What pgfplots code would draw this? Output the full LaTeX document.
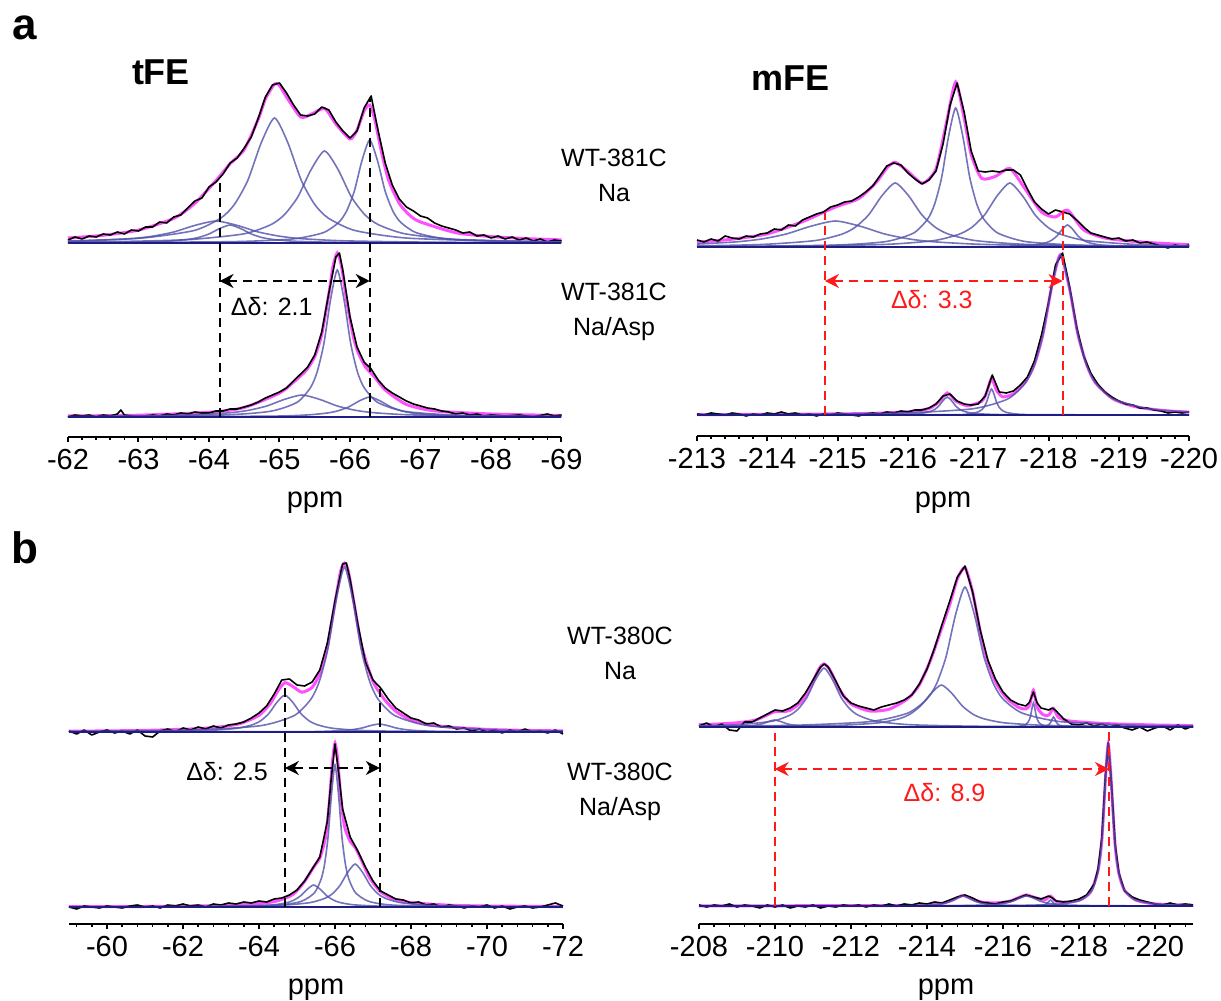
\documentclass[border=0pt]{standalone}
\usepackage{pgfplots}
\pgfplotsset{compat=1.18}
\usepackage{fontspec}
\setmainfont{Liberation Sans}
\usetikzlibrary{arrows.meta}

\definecolor{fitc}{RGB}{255,80,255}
\definecolor{compc}{RGB}{80,80,170}
\definecolor{basec}{RGB}{30,30,130}
\definecolor{redc}{RGB}{255,25,25}

\pgfplotsset{
  panel/.style={
    anchor=south west, y=0.5pt, x dir=reverse,
    axis x line*=bottom, axis y line=none,
    axis line style={-, line width=1pt, black},
    tick align=outside, major tick length=2.6pt, minor tick length=1.6pt,
    x tick style={black, line width=1pt},
    minor x tick style={black, line width=0.8pt},
    xticklabel style={font=\fontsize{14.5}{16}\selectfont},
    /pgf/number format/assume math mode=true,
    enlargelimits=false, clip=false, ymax=360,
  },
  fit/.style={fitc, line width=1.5pt, smooth, tension=0.4},
  dat/.style={black, line width=0.8pt, line join=round},
  comp/.style={compc, opacity=0.8, line width=0.8pt, smooth, tension=0.4},
  base/.style={basec, line width=1.2pt},
  yoff/.style={y filter/.expression={y+#1}},
  guide/.style={black, line width=1pt, dash pattern=on 4.5pt off 3pt},
  rguide/.style={redc, line width=1pt, dash pattern=on 4.5pt off 3pt},
}
\tikzset{dd/.style={{Stealth[length=7pt,width=7pt]}-{Stealth[length=7pt,width=7pt]}}}

\begin{document}
\begin{tikzpicture}
\path[use as bounding box] (0,0) rectangle (610.5pt,500.5pt);

% ---------------- a, tFE ----------------
\begin{axis}[panel, at={(34pt,282pt)}, x=35.25pt,
  xmin=-69, xmax=-62, ymin=-20,
  xtick={-69,-68,...,-62}, minor xtick={-69,-68.8,...,-62}]
% WT-381C Na
\addplot[fit, yoff=174] coordinates {(-62,5)(-62.5,7.7)(-63,12.9)(-63.5,24.6)(-63.8,39.7)(-64.1,62.5)(-64.3,79.3)(-64.5,93.4)(-64.7,124)(-64.8,144)(-64.93,159)(-65.0,157.6)(-65.1,146)(-65.3,126)(-65.45,128.7)(-65.64,134.5)(-65.8,119)(-66.0,104)(-66.1,113)(-66.2,132)(-66.28,138)(-66.35,124)(-66.45,90)(-66.55,62.4)(-66.7,39.5)(-66.85,27.5)(-67,21)(-67.5,10.3)(-68,6.4)(-68.5,4.4)(-69,3.1)};
\addplot[dat, yoff=174] coordinates {(-62.0,3)(-62.1,6)(-62.2,4)(-62.3,7)(-62.4,6)(-62.5,9)(-62.6,8)(-62.7,11)(-62.8,9)(-62.9,13)(-63.0,12)(-63.1,16)(-63.2,16)(-63.3,21)(-63.4,20)(-63.5,26)(-63.6,28)(-63.7,35)(-63.8,42)(-63.9,45)(-64.0,56)(-64.1,61)(-64.2,69)(-64.3,80)(-64.4,85)(-64.5,95)(-64.6,106)(-64.7,125)(-64.8,146)(-64.9,158)(-65.0,160)(-65.1,150)(-65.2,138)(-65.3,128)(-65.4,127)(-65.5,129)(-65.6,136)(-65.7,133)(-65.8,121)(-65.9,112)(-66.0,105)(-66.1,112)(-66.2,135)(-66.3,147)(-66.4,112)(-66.5,80)(-66.6,58)(-66.7,44)(-66.8,36)(-66.9,32)(-67.0,27)(-67.1,25)(-67.2,20)(-67.3,17)(-67.4,15)(-67.5,13)(-67.6,10)(-67.7,11)(-67.8,7)(-67.9,8)(-68.0,5)(-68.1,7)(-68.2,4)(-68.3,6)(-68.4,3)(-68.5,5)(-68.6,2)(-68.7,4)(-68.8,1)(-68.9,3)(-69.0,2)};
\addplot[comp, yoff=174] coordinates {(-62,1.7)(-62.3,2.2)(-62.9,4.4)(-63.2,6.8)(-63.5,11)(-63.8,17.6)(-64.1,22)(-64.4,17.6)(-64.7,11)(-65.0,6.8)(-65.3,4.4)(-65.9,2.2)(-67.1,0.85)(-69,0.33)};
\addplot[comp, yoff=174] coordinates {(-62,0.3)(-62.8,0.7)(-63.4,1.8)(-63.7,3.6)(-63.85,5.5)(-64.0,9)(-64.15,14.4)(-64.3,18)(-64.45,14.4)(-64.6,9)(-64.75,5.5)(-64.9,3.6)(-65.2,1.8)(-65.8,0.7)(-67.0,0.22)(-69,0.07)};
\addplot[comp, yoff=174] coordinates {(-62,2.1)(-63.03,4.8)(-63.79,12.5)(-64.17,25)(-64.36,38.5)(-64.55,62.5)(-64.74,100)(-64.93,125)(-65.12,100)(-65.31,62.5)(-65.50,38.5)(-65.69,25)(-66.07,12.5)(-66.83,4.8)(-68.35,1.5)(-69,1.1)};
\addplot[comp, yoff=174] coordinates {(-62,1.0)(-62.9,1.7)(-63.74,3.5)(-64.50,9.2)(-64.88,18.4)(-65.07,28.3)(-65.26,46)(-65.45,73.6)(-65.64,92)(-65.83,73.6)(-66.02,46)(-66.21,28.3)(-66.40,18.4)(-66.78,9.2)(-67.54,3.5)(-69,1.2)};
\addplot[comp, yoff=174] coordinates {(-62,0.3)(-64.30,1.3)(-65.18,4)(-65.62,10.3)(-65.84,20.6)(-65.95,31.7)(-66.06,51.5)(-66.17,82.4)(-66.28,103)(-66.39,82.4)(-66.50,51.5)(-66.61,31.7)(-66.72,20.6)(-66.94,10.3)(-67.38,4)(-68.26,1.3)(-69,0.7)};
\addplot[base, yoff=174] coordinates {(-62,0)(-69,0)};
% WT-381C Na/Asp
\addplot[fit] coordinates {(-62,1)(-63,1.8)(-64,4.7)(-64.5,9.5)(-65,24)(-65.2,34.9)(-65.38,46.7)(-65.5,60.5)(-65.6,82.8)(-65.7,123)(-65.76,151)(-65.82,164)(-65.88,150.6)(-65.95,117.5)(-66.05,79.6)(-66.12,63.8)(-66.22,50)(-66.35,40)(-66.5,27)(-66.8,12.6)(-67.2,6.1)(-68,3)(-69,1.5)};
\addplot[dat] coordinates {(-62.0,0)(-62.1,2)(-62.2,1)(-62.3,2)(-62.4,0)(-62.5,2)(-62.6,1)(-62.7,3)(-62.75,7)(-62.8,2)(-62.9,1)(-63.0,0)(-63.1,1)(-63.2,2)(-63.3,1)(-63.4,3)(-63.5,2)(-63.6,4)(-63.7,3)(-63.8,5)(-63.9,4)(-64.0,4)(-64.1,6)(-64.2,6)(-64.3,8)(-64.4,8)(-64.5,10)(-64.6,12)(-64.7,15)(-64.8,19)(-64.9,22)(-65.0,25)(-65.1,29)(-65.2,36)(-65.3,43)(-65.4,50)(-65.5,62)(-65.6,85)(-65.7,124)(-65.8,160)(-65.85,164)(-65.9,146)(-66.0,100)(-66.1,70)(-66.2,55)(-66.3,48)(-66.4,37)(-66.5,29)(-66.6,24)(-66.7,20)(-66.8,16)(-66.9,13)(-67.0,11)(-67.1,9)(-67.2,8)(-67.3,6)(-67.4,5)(-67.5,3)(-67.6,4)(-67.7,2)(-67.8,3)(-67.9,1)(-68.0,2)(-68.2,1)(-68.4,2)(-68.6,0)(-68.8,3)(-68.9,1)(-69.0,2)};
\addplot[comp] coordinates {(-62,0.36)(-64.11,1.8)(-64.87,5.7)(-65.25,14.7)(-65.44,29.4)(-65.535,45.2)(-65.63,73.5)(-65.725,117.6)(-65.82,147)(-65.915,117.6)(-66.01,73.5)(-66.105,45.2)(-66.20,29.4)(-66.39,14.7)(-66.77,5.7)(-67.53,1.8)(-69,0.52)};
\addplot[comp] coordinates {(-62,0.49)(-62.82,0.85)(-63.82,2.2)(-64.32,4.4)(-64.57,6.8)(-64.82,11)(-65.07,17.6)(-65.32,22)(-65.57,17.6)(-65.82,11)(-66.07,6.8)(-66.32,4.4)(-66.82,2.2)(-67.82,0.85)(-69,0.4)};
\addplot[comp] coordinates {(-62,0.1)(-64.78,0.77)(-65.38,2)(-65.68,4)(-65.83,6.2)(-65.98,10)(-66.13,16)(-66.28,20)(-66.43,16)(-66.58,10)(-66.73,6.2)(-66.88,4)(-67.18,2)(-67.78,0.77)(-69,0.24)};
\addplot[base] coordinates {(-62,0)(-69,0)};
% shift marks
\addplot[guide] coordinates {(-64.15,0)(-64.15,238)};
\addplot[guide] coordinates {(-66.28,0)(-66.28,318)};
\addplot[guide, dd] coordinates {(-64.15,136)(-66.28,136)};
\node[font=\fontsize{12.5}{14}\selectfont] at (axis cs:-64.89,110) {Δδ: 2.1};
\end{axis}

% ---------------- a, mFE ----------------
\begin{axis}[panel, at={(348.5pt,282.5pt)}, x=35.15pt,
  xmin=-220, xmax=-213, ymin=-21,
  xtick={-220,-219,...,-213}, minor xtick={-220,-219.8,...,-213}]
% WT-381C Na
\addplot[fit, yoff=168] coordinates {(-213,4.8)(-213.5,7.8)(-214,13.1)(-214.5,25.3)(-214.97,40)(-215.3,48.4)(-215.55,64.7)(-215.7,79)(-215.82,84.7)(-216,75.5)(-216.21,63.8)(-216.4,78.2)(-216.55,124.9)(-216.68,165)(-216.8,128.8)(-216.9,92.4)(-217.05,68.6)(-217.25,70.8)(-217.45,78.6)(-217.65,59.9)(-217.9,35)(-218.1,30)(-218.27,36.9)(-218.5,17.1)(-218.8,9)(-219.2,5.7)(-219.6,3.7)(-220,2.3)};
\addplot[dat, yoff=168] coordinates {(-213.0,7)(-213.1,5)(-213.2,8)(-213.3,6)(-213.4,11)(-213.5,9)(-213.6,8)(-213.7,11)(-213.8,10)(-213.9,13)(-214.0,14)(-214.1,18)(-214.2,17)(-214.3,22)(-214.4,21)(-214.5,27)(-214.6,30)(-214.7,33)(-214.8,35)(-214.9,40)(-215.0,42)(-215.1,45)(-215.2,46)(-215.3,50)(-215.4,55)(-215.5,61)(-215.6,71)(-215.7,81)(-215.8,84)(-215.9,82)(-216.0,74)(-216.1,68)(-216.2,63)(-216.3,67)(-216.4,76)(-216.5,103)(-216.6,142)(-216.7,164)(-216.8,135)(-216.9,96)(-217.0,76)(-217.1,75)(-217.2,76)(-217.3,75)(-217.4,77)(-217.5,77)(-217.6,72)(-217.7,58)(-217.8,45)(-217.9,38)(-218.0,33)(-218.1,37)(-218.2,35)(-218.3,33)(-218.4,27)(-218.5,20)(-218.6,14)(-218.7,12)(-218.8,10)(-218.9,8)(-219.0,9)(-219.1,6)(-219.2,7)(-219.3,4)(-219.4,5)(-219.5,3)(-219.6,1)(-219.7,-1)(-219.8,2)(-219.9,0)(-220.0,2)};
\addplot[comp, yoff=168] coordinates {(-213,2.9)(-213.57,5.2)(-213.92,8)(-214.27,13)(-214.62,20.8)(-214.97,26)(-215.32,20.8)(-215.67,13)(-216.02,8)(-216.37,5.2)(-217.07,2.6)(-218.47,1)(-220,0.5)};
\addplot[comp, yoff=168] coordinates {(-213,1.1)(-213.92,2.5)(-214.68,6.4)(-215.06,12.8)(-215.25,19.7)(-215.44,32)(-215.63,51.2)(-215.82,64)(-216.01,51.2)(-216.20,32)(-216.39,19.7)(-216.58,12.8)(-216.96,6.4)(-217.72,2.5)(-219.24,0.8)(-220,0.5)};
\addplot[comp, yoff=168] coordinates {(-213,0.4)(-214.88,1.7)(-215.68,5.35)(-216.08,13.9)(-216.28,27.8)(-216.38,42.8)(-216.48,69.5)(-216.58,111.2)(-216.68,139)(-216.78,111.2)(-216.88,69.5)(-216.98,42.8)(-217.08,27.8)(-217.28,13.9)(-217.68,5.35)(-218.48,1.7)(-220,0.5)};
\addplot[comp, yoff=168] coordinates {(-213,0.4)(-214.21,0.8)(-215.65,2.5)(-216.37,6.4)(-216.73,12.8)(-216.91,19.7)(-217.09,32)(-217.27,51.2)(-217.45,64)(-217.63,51.2)(-217.81,32)(-217.99,19.7)(-218.17,12.8)(-218.53,6.4)(-219.25,2.5)(-220,1.25)};
\addplot[comp, yoff=168] coordinates {(-213,0)(-216.92,0.27)(-217.52,0.85)(-217.82,2.2)(-217.97,4.4)(-218.045,6.8)(-218.12,11)(-218.195,17.6)(-218.27,22)(-218.345,17.6)(-218.42,11)(-218.495,6.8)(-218.57,4.4)(-218.72,2.2)(-219.02,0.85)(-219.62,0.27)(-220,0.16)};
\addplot[base, yoff=168] coordinates {(-213,0)(-220,0)};
% WT-381C Na/Asp
\addplot[fit] coordinates {(-213,0.4)(-214,0.6)(-215,1.1)(-215.5,1.6)(-216,3.2)(-216.3,6.4)(-216.45,13.7)(-216.5,18.3)(-216.56,22.1)(-216.62,18.9)(-216.68,13.9)(-216.85,9.2)(-217.05,13.8)(-217.12,22.5)(-217.19,36.5)(-217.26,24.8)(-217.35,18.2)(-217.5,21.2)(-217.67,33)(-217.8,50.7)(-217.92,80.5)(-218.05,130)(-218.17,160.3)(-218.3,126)(-218.42,80)(-218.55,49)(-218.67,32)(-218.92,16)(-219.2,8.9)(-219.42,6.2)(-219.7,4.1)(-220,2.9)};
\addplot[dat] coordinates {(-213.0,1)(-213.1,0)(-213.2,2)(-213.3,1)(-213.4,0)(-213.5,2)(-213.6,1)(-213.7,-1)(-213.8,1)(-213.9,0)(-214.0,2)(-214.1,1)(-214.2,3)(-214.3,1)(-214.4,2)(-214.5,0)(-214.6,1)(-214.7,-1)(-214.8,1)(-214.9,0)(-215.0,2)(-215.1,1)(-215.2,0)(-215.3,-1)(-215.4,1)(-215.5,2)(-215.6,1)(-215.7,3)(-215.8,2)(-215.9,4)(-216.0,3)(-216.1,5)(-216.2,5)(-216.3,7)(-216.4,11)(-216.5,19)(-216.6,21)(-216.7,14)(-216.8,11)(-216.9,10)(-217.0,11)(-217.1,19)(-217.2,40)(-217.3,23)(-217.4,22)(-217.5,24)(-217.6,30)(-217.7,38)(-217.8,54)(-217.9,80)(-218.0,112)(-218.1,150)(-218.2,162)(-218.3,128)(-218.4,88)(-218.5,59)(-218.6,42)(-218.7,31)(-218.8,23)(-218.9,18)(-219.0,14)(-219.1,11)(-219.2,10)(-219.3,7)(-219.4,7)(-219.5,5)(-219.6,4)(-219.7,2)(-219.8,3)(-219.9,2)(-220.0,3)};
\addplot[comp] coordinates {(-213,0.4)(-214.5,0.7)(-215.92,2)(-216.92,6.2)(-217.42,16)(-217.67,32)(-217.795,49.2)(-217.92,80)(-218.045,128)(-218.17,160)(-218.295,128)(-218.42,80)(-218.545,49.2)(-218.67,32)(-218.92,16)(-219.42,6.2)(-220,2.9)};
\addplot[comp] coordinates {(-213,0)(-215.48,0.2)(-215.96,0.7)(-216.20,1.8)(-216.32,3.6)(-216.38,5.5)(-216.44,9)(-216.50,14.4)(-216.56,18)(-216.62,14.4)(-216.68,9)(-216.74,5.5)(-216.80,3.6)(-216.92,1.8)(-217.16,0.7)(-217.64,0.2)(-220,0)};
\addplot[comp] coordinates {(-213,0)(-216.56,0.3)(-216.84,1)(-216.98,2.6)(-217.05,5.2)(-217.085,8)(-217.12,13)(-217.155,20.8)(-217.19,26)(-217.225,20.8)(-217.26,13)(-217.295,8)(-217.33,5.2)(-217.40,2.6)(-217.54,1)(-217.82,0.3)(-220,0)};
\addplot[base] coordinates {(-213,0)(-220,0)};
\addplot[rguide] coordinates {(-214.82,0)(-214.82,202)};
\addplot[rguide] coordinates {(-218.2,0)(-218.2,206)};
\addplot[rguide, dd] coordinates {(-214.82,134)(-218.2,134)};
\node[font=\fontsize{12.5}{14}\selectfont, text=redc] at (axis cs:-216.34,115) {Δδ: 3.3};
\end{axis}

% ---------------- b, tFE ----------------
\begin{axis}[panel, at={(34.5pt,38.5pt)}, x=19pt,
  xmin=-72, xmax=-59, ymin=-17,
  xtick={-72,-70,...,-60}, minor xtick={-72,-71.6,...,-59.1}]
% WT-380C Na
\addplot[fit, yoff=175] coordinates {(-59,0.8)(-60,1.1)(-61,1.6)(-62,2.7)(-62.5,3.6)(-63,5.2)(-63.5,8.4)(-64,16.6)(-64.3,28.6)(-64.5,41.3)(-64.68,49.3)(-64.9,45.3)(-65.13,39.8)(-65.4,44.7)(-65.6,58.7)(-65.8,86)(-66.0,129.1)(-66.15,161.1)(-66.25,169)(-66.35,161)(-66.5,129.2)(-66.7,86.1)(-67.0,50.5)(-67.3,32.7)(-67.6,20.7)(-68,12.1)(-68.5,7.3)(-69,5)(-70,2.6)(-71,1.6)(-72,1.1)};
\addplot[dat, yoff=175] coordinates {(-59.0,1)(-59.2,-2)(-59.4,2)(-59.6,-3)(-59.8,0)(-60.0,2)(-60.2,-1)(-60.4,1)(-60.6,-2)(-60.8,2)(-61.0,-4)(-61.2,-5)(-61.4,1)(-61.6,3)(-61.8,0)(-62.0,4)(-62.2,2)(-62.4,5)(-62.6,3)(-62.8,6)(-63.0,4)(-63.2,7)(-63.4,8)(-63.6,10)(-63.8,14)(-64.0,19)(-64.2,26)(-64.4,38)(-64.6,52)(-64.8,53)(-65.0,47)(-65.2,46)(-65.4,50)(-65.6,62)(-65.8,89)(-66.0,131)(-66.2,168)(-66.3,169)(-66.4,152)(-66.6,108)(-66.8,70)(-67.0,52)(-67.2,44)(-67.4,33)(-67.6,24)(-67.8,19)(-68.0,14)(-68.2,12)(-68.4,8)(-68.6,9)(-68.8,5)(-69.0,6)(-69.2,3)(-69.4,4)(-69.6,1)(-69.8,3)(-70.0,0)(-70.2,2)(-70.4,-1)(-70.6,2)(-70.8,0)(-71.0,3)(-71.2,0)(-71.4,1)(-71.6,-1)(-71.8,2)(-72.0,-2)};
\addplot[comp, yoff=175] coordinates {(-59,0.6)(-62.29,2)(-64.05,6.35)(-64.93,16.5)(-65.37,33)(-65.59,50.8)(-65.81,82.5)(-66.03,132)(-66.25,165)(-66.47,132)(-66.69,82.5)(-66.91,50.8)(-67.13,33)(-67.57,16.5)(-68.45,6.35)(-70.21,2)(-72,1)};
\addplot[comp, yoff=175] coordinates {(-59,0.2)(-60.90,0.45)(-62.58,1.4)(-63.42,3.7)(-63.84,7.4)(-64.05,11.4)(-64.26,18.5)(-64.47,29.6)(-64.68,37)(-64.89,29.6)(-65.10,18.5)(-65.31,11.4)(-65.52,7.4)(-65.94,3.7)(-66.78,1.4)(-68.46,0.45)(-72,0.1)};
\addplot[comp, yoff=175] coordinates {(-59,0.05)(-64.91,0.3)(-65.81,0.8)(-66.26,1.6)(-66.485,2.5)(-66.71,4)(-66.935,6.4)(-67.16,8)(-67.385,6.4)(-67.61,4)(-67.835,2.5)(-68.06,1.6)(-68.51,0.8)(-69.41,0.3)(-72,0.05)};
\addplot[base, yoff=175] coordinates {(-59,0)(-72,0)};
% WT-380C Na/Asp
\addplot[fit] coordinates {(-59,0.25)(-61,0.5)(-62,0.9)(-63,1.5)(-64,3.4)(-64.5,6.3)(-64.9,12.7)(-65.2,25.5)(-65.44,40)(-65.6,48.9)(-65.75,69.7)(-65.85,103.9)(-65.93,144)(-66.0,163.7)(-66.07,147.3)(-66.15,110.7)(-66.25,80.8)(-66.4,65.5)(-66.53,59.8)(-66.7,46.7)(-66.9,29.9)(-67.18,15.9)(-67.5,8.7)(-68,4.4)(-69,1.8)(-70,1)(-72,0.4)};
\addplot[dat] coordinates {(-59.0,0)(-59.2,-2)(-59.4,1)(-59.6,0)(-59.8,-1)(-60.0,1)(-60.2,0)(-60.4,-1)(-60.6,1)(-60.8,2)(-61.0,0)(-61.2,1)(-61.4,-1)(-61.6,2)(-61.8,1)(-62.0,3)(-62.2,1)(-62.4,2)(-62.6,0)(-62.8,3)(-63.0,2)(-63.2,4)(-63.4,3)(-63.6,5)(-63.8,4)(-64.0,6)(-64.2,5)(-64.4,8)(-64.6,9)(-64.8,12)(-65.0,17)(-65.2,26)(-65.4,38)(-65.6,50)(-65.8,86)(-65.9,128)(-66.0,163)(-66.1,133)(-66.2,98)(-66.4,70)(-66.6,56)(-66.8,40)(-67.0,26)(-67.2,16)(-67.4,12)(-67.6,8)(-67.8,7)(-68.0,4)(-68.2,5)(-68.4,2)(-68.6,3)(-68.8,0)(-69.0,2)(-69.2,1)(-69.4,-1)(-69.6,1)(-69.8,0)(-70.0,2)(-70.2,-1)(-70.4,1)(-70.6,-2)(-70.8,0)(-71.0,1)(-71.2,-1)(-71.4,0)(-71.6,2)(-71.8,4)(-72.0,1)};
\addplot[comp] coordinates {(-59,0.1)(-62,0.3)(-64.38,1.7)(-65.10,5.5)(-65.46,14.2)(-65.64,28.4)(-65.73,43.7)(-65.82,71)(-65.91,113.6)(-66.0,142)(-66.09,113.6)(-66.18,71)(-66.27,43.7)(-66.36,28.4)(-66.54,14.2)(-66.90,5.5)(-67.62,1.7)(-70,0.3)(-72,0.1)};
\addplot[comp] coordinates {(-59,0.06)(-62.29,0.27)(-63.69,0.85)(-64.39,2.2)(-64.74,4.4)(-64.915,6.8)(-65.09,11)(-65.265,17.6)(-65.44,22)(-65.615,17.6)(-65.79,11)(-65.965,6.8)(-66.14,4.4)(-66.49,2.2)(-67.19,0.85)(-68.59,0.27)(-72,0.05)};
\addplot[comp] coordinates {(-59,0.1)(-62.93,0.5)(-64.53,1.65)(-65.33,4.3)(-65.73,8.6)(-65.93,13.2)(-66.13,21.5)(-66.33,34.4)(-66.53,43)(-66.73,34.4)(-66.93,21.5)(-67.13,13.2)(-67.33,8.6)(-67.73,4.3)(-68.53,1.65)(-70.13,0.5)(-72,0.2)};
\addplot[base] coordinates {(-59,0)(-72,0)};
\addplot[guide] coordinates {(-64.68,0)(-64.68,222)};
\addplot[guide] coordinates {(-67.18,0)(-67.18,218)};
\addplot[guide, dd] coordinates {(-64.68,139)(-67.18,139)};
\node[font=\fontsize{12.5}{14}\selectfont] at (axis cs:-63.16,135) {Δδ: 2.5};
\end{axis}

% ---------------- b, mFE ----------------
\begin{axis}[panel, at={(349.5pt,38.5pt)}, x=19pt,
  xmin=-221, xmax=-208, ymin=-18,
  xtick={-220,-218,...,-208}, minor xtick={-220.8,-220.4,...,-208}]
% WT-380C Na
\addplot[fit, yoff=179] coordinates {(-208,2.3)(-208.5,3)(-209,4.2)(-209.5,7.1)(-209.99,15.4)(-210.2,15.5)(-210.4,16.7)(-210.7,25.6)(-210.95,41.2)(-211.15,57.7)(-211.29,63.1)(-211.45,56.7)(-211.7,37.3)(-212,23)(-212.5,16)(-213,17.8)(-213.5,28.5)(-213.8,42.2)(-214.1,67.5)(-214.38,98.1)(-214.6,122.7)(-214.8,148.2)(-215,159.3)(-215.2,135)(-215.4,95.5)(-215.6,65.1)(-215.84,42.4)(-216.1,28.6)(-216.4,19.8)(-216.6,18)(-216.7,21.8)(-216.8,36.8)(-216.9,19.7)(-217.05,12.4)(-217.2,11.8)(-217.33,18.5)(-217.45,9.9)(-217.7,6.3)(-218,5.1)(-218.5,3.8)(-219,3)(-220,2)(-221,1.4)};
\addplot[dat, yoff=179] coordinates {(-208.0,1)(-208.2,4)(-208.4,0)(-208.6,3)(-208.8,-3)(-209.0,-4)(-209.2,5)(-209.4,5)(-209.6,9)(-209.8,13)(-210.0,17)(-210.2,16)(-210.4,19)(-210.6,24)(-210.8,34)(-211.0,47)(-211.2,60)(-211.3,63)(-211.4,60)(-211.6,46)(-211.8,31)(-212.0,24)(-212.2,21)(-212.4,19)(-212.6,17)(-212.8,20)(-213.0,22)(-213.2,24)(-213.4,27)(-213.6,32)(-213.8,43)(-214.0,58)(-214.2,79)(-214.4,103)(-214.6,126)(-214.8,150)(-215.0,161)(-215.2,135)(-215.4,97)(-215.6,67)(-215.8,48)(-216.0,35)(-216.2,27)(-216.4,23)(-216.6,21)(-216.7,25)(-216.8,35)(-216.9,24)(-217.0,19)(-217.2,17)(-217.3,19)(-217.4,16)(-217.6,8)(-217.8,3)(-218.0,2)(-218.2,4)(-218.4,1)(-218.6,3)(-218.8,0)(-219.0,2)(-219.2,-1)(-219.4,-3)(-219.6,0)(-219.8,-4)(-220.0,-1)(-220.2,1)(-220.4,-3)(-220.6,2)(-220.8,-2)(-221.0,1)};
\addplot[comp, yoff=179] coordinates {(-208,1.1)(-209.04,2.3)(-209.94,5.9)(-210.39,11.8)(-210.615,18.2)(-210.84,29.5)(-211.065,47.2)(-211.29,59)(-211.515,47.2)(-211.74,29.5)(-211.965,18.2)(-212.19,11.8)(-212.64,5.9)(-213.54,2.3)(-215.34,0.7)(-218,0.25)(-221,0.13)};
\addplot[comp, yoff=179] coordinates {(-208,0.3)(-209.43,0.5)(-211.63,1.6)(-212.73,4.2)(-213.28,8.4)(-213.555,12.9)(-213.83,21)(-214.105,33.6)(-214.38,42)(-214.655,33.6)(-214.93,21)(-215.205,12.9)(-215.48,8.4)(-216.03,4.2)(-217.13,1.6)(-219.33,0.5)(-221,0.3)};
\addplot[comp, yoff=179] coordinates {(-208,0.7)(-210.5,1.7)(-212.5,5.4)(-213.5,14)(-214,28)(-214.25,43.1)(-214.5,70)(-214.75,112)(-215,140)(-215.25,112)(-215.5,70)(-215.75,43.1)(-216,28)(-216.5,14)(-217.5,5.4)(-219.5,1.7)(-221,1)};
\addplot[comp, yoff=179] coordinates {(-208,0)(-216.17,0.3)(-216.45,0.9)(-216.59,2.4)(-216.66,4.8)(-216.695,7.4)(-216.73,12)(-216.765,19.2)(-216.8,24)(-216.835,19.2)(-216.87,12)(-216.905,7.4)(-216.94,4.8)(-217.01,2.4)(-217.15,0.9)(-217.43,0.3)(-221,0)};
\addplot[comp, yoff=179] coordinates {(-208,0)(-216.70,0.1)(-216.98,0.4)(-217.12,1)(-217.19,2)(-217.225,3.1)(-217.26,5)(-217.295,8)(-217.33,10)(-217.365,8)(-217.40,5)(-217.435,3.1)(-217.47,2)(-217.54,1)(-217.68,0.4)(-217.96,0.1)(-221,0)};
\addplot[comp, yoff=179] coordinates {(-208,0.15)(-208.49,0.27)(-209.09,0.7)(-209.39,1.4)(-209.54,2.15)(-209.69,3.5)(-209.84,5.6)(-209.99,7)(-210.14,5.6)(-210.29,3.5)(-210.44,2.15)(-210.59,1.4)(-210.89,0.7)(-211.49,0.27)(-213,0.07)(-221,0)};
\addplot[base, yoff=179] coordinates {(-208,0)(-221,0)};
% WT-380C Na/Asp
\addplot[fit] coordinates {(-208,0.1)(-210,0.2)(-212,0.4)(-213,0.45)(-213.5,0.6)(-214,1.2)(-214.4,2.6)(-214.7,6.4)(-214.95,10.6)(-215.2,6.7)(-215.5,3.5)(-215.9,3.3)(-216.2,5.1)(-216.45,9)(-216.62,11.1)(-216.85,8.3)(-217.1,6.1)(-217.25,9.9)(-217.4,4.7)(-217.7,3.8)(-218,5.8)(-218.3,13.6)(-218.5,35.5)(-218.6,65.2)(-218.7,129.8)(-218.77,162.3)(-218.84,129.8)(-218.95,61.2)(-219.05,32.5)(-219.2,15.5)(-219.5,5.8)(-220,2.1)(-221,0.7)};
\addplot[dat] coordinates {(-208.0,1)(-208.2,-1)(-208.4,1)(-208.6,0)(-208.8,2)(-209.0,-1)(-209.2,1)(-209.4,0)(-209.6,-2)(-209.8,1)(-210.0,-1)(-210.2,1)(-210.4,-2)(-210.6,0)(-210.8,-1)(-211.0,1)(-211.2,-2)(-211.4,0)(-211.6,-1)(-211.8,1)(-212.0,0)(-212.2,1)(-212.4,-1)(-212.6,1)(-212.8,0)(-213.0,2)(-213.2,0)(-213.4,2)(-213.6,1)(-213.8,3)(-214.0,2)(-214.2,4)(-214.4,3)(-214.6,6)(-214.8,9)(-215.0,11)(-215.2,8)(-215.4,4)(-215.6,3)(-215.8,2)(-216.0,4)(-216.2,5)(-216.4,8)(-216.6,11)(-216.8,9)(-217.0,7)(-217.2,10)(-217.3,8)(-217.4,5)(-217.6,4)(-217.8,5)(-218.0,7)(-218.2,11)(-218.4,22)(-218.5,37)(-218.6,68)(-218.7,132)(-218.77,163)(-218.85,124)(-218.95,62)(-219.05,33)(-219.2,15)(-219.4,9)(-219.6,6)(-219.8,4)(-220.0,2)(-220.2,1)(-220.4,3)(-220.6,1)(-220.8,2)(-221.0,1)};
\addplot[comp] coordinates {(-208,0)(-213,0.1)(-216.27,0.5)(-217.51,2)(-218.07,6.2)(-218.35,16.2)(-218.49,32.4)(-218.56,49.8)(-218.63,81)(-218.70,129.6)(-218.77,162)(-218.84,129.6)(-218.91,81)(-218.98,49.8)(-219.05,32.4)(-219.19,16.2)(-219.47,6.2)(-220.03,2)(-221,0.6)};
\addplot[comp] coordinates {(-208,0)(-212.25,0.1)(-213.45,0.4)(-214.05,1)(-214.35,2)(-214.5,3.1)(-214.65,5)(-214.8,8)(-214.95,10)(-215.1,8)(-215.25,5)(-215.4,3.1)(-215.55,2)(-215.85,1)(-216.45,0.4)(-217.65,0.1)(-221,0)};
\addplot[comp] coordinates {(-208,0)(-213.5,0.1)(-214.87,0.4)(-215.57,1)(-215.92,2)(-216.095,3.1)(-216.27,5)(-216.445,8)(-216.62,10)(-216.795,8)(-216.97,5)(-217.145,3.1)(-217.32,2)(-217.67,1)(-218.37,0.4)(-219.8,0.1)(-221,0)};
\addplot[comp] coordinates {(-208,0)(-216.5,0.07)(-216.85,0.23)(-217.01,0.6)(-217.09,1.2)(-217.13,1.85)(-217.17,3)(-217.21,4.8)(-217.25,6)(-217.29,4.8)(-217.33,3)(-217.37,1.85)(-217.41,1.2)(-217.49,0.6)(-217.65,0.23)(-218.0,0.07)(-221,0)};
\addplot[base] coordinates {(-208,0)(-221,0)};
\addplot[rguide] coordinates {(-209.99,0)(-209.99,173)};
\addplot[rguide] coordinates {(-218.79,0)(-218.79,176)};
\addplot[rguide, dd] coordinates {(-209.99,137)(-218.79,137)};
\node[font=\fontsize{12.5}{14}\selectfont, text=redc] at (axis cs:-214.46,113) {Δδ: 8.9};
\end{axis}

% ---------------- text ----------------
\node[font=\bfseries\fontsize{22}{24}\selectfont] at (12.5pt,486.5pt) {a};
\node[font=\bfseries\fontsize{22}{24}\selectfont] at (12.5pt,226.5pt) {b};
\node[font=\bfseries\fontsize{18}{20}\selectfont] at (80.5pt,464.5pt) {tFE};
\node[font=\bfseries\fontsize{18}{20}\selectfont] at (395pt,461.5pt) {mFE};
\node[align=center, font=\fontsize{12.5}{17.5}\selectfont] at (307pt,413pt) {WT-381C\\Na};
\node[align=center, font=\fontsize{12.5}{17.5}\selectfont] at (307pt,344.5pt) {WT-381C\\Na/Asp};
\node[align=center, font=\fontsize{12.5}{17.5}\selectfont] at (310pt,174pt) {WT-380C\\Na};
\node[align=center, font=\fontsize{12.5}{17.5}\selectfont] at (310pt,104.5pt) {WT-380C\\Na/Asp};
\node[font=\fontsize{14.5}{16}\selectfont, anchor=base] at (157.5pt,246.5pt) {ppm};
\node[font=\fontsize{14.5}{16}\selectfont, anchor=base] at (471.5pt,246.5pt) {ppm};
\node[font=\fontsize{14.5}{16}\selectfont, anchor=base] at (158pt,3pt) {ppm};
\node[font=\fontsize{14.5}{16}\selectfont, anchor=base] at (473pt,3pt) {ppm};
\end{tikzpicture}
\end{document}
